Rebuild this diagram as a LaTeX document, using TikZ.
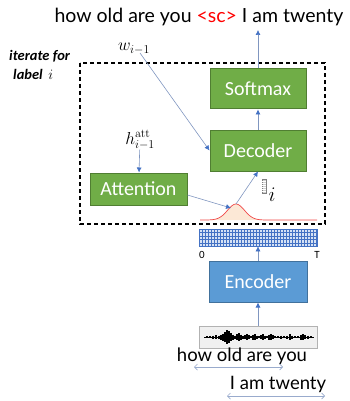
\documentclass[tikz,border=0pt]{standalone}
\usepackage[no-math]{fontspec}
\setmainfont{Carlito}
\newfontfamily\gillfont{Lato}
\usetikzlibrary{arrows.meta}
\definecolor{boxgreen}{HTML}{70AD47}
\definecolor{boxgreenline}{HTML}{507E32}
\definecolor{boxblue}{HTML}{5B9BD5}
\definecolor{boxblueline}{HTML}{41719C}
\definecolor{arrline}{HTML}{8096C0}
\definecolor{arrtip}{HTML}{4472C4}
\definecolor{gaussfill}{HTML}{FCE8D6}
\definecolor{gaussline}{HTML}{F04848}
\definecolor{barfill}{HTML}{D6E2F5}
\definecolor{sccol}{HTML}{FF0000}

\begin{document}
\begin{tikzpicture}[x=1pt,y=-1pt,
		gbox/.style={draw=boxgreenline,fill=boxgreen,line width=1pt,text=white,font=\fontsize{20}{22}\selectfont,minimum width=96pt,inner sep=0pt},
		bbox/.style={draw=boxblueline,fill=boxblue,line width=1pt,text=white,font=\fontsize{20}{22}\selectfont,minimum width=98pt,minimum height=41pt,inner sep=0pt},
		arr/.style={draw=arrline,line width=0.6pt,-{Latex[length=5pt,width=5pt,color=arrtip]}},
		span/.style={draw=arrline!80,line width=0.7pt,{Straight Barb[length=3pt,width=6pt]}-{Straight Barb[length=3pt,width=6pt]}},
		mathlab/.style={font=\fontsize{17}{19}\selectfont,inner sep=0pt}]
	\useasboundingbox (0,0) rectangle (349,401);

	% sentence on top
	\node[font=\gillfont\fontsize{19.5}{22}\selectfont,inner sep=0pt] (out) at (199,17) {how old are you \textcolor{sccol}{<sc>} I am twenty};
	\coordinate (outfoot) at (258,30);

	% loop frame
	\draw[line width=1.1pt,dash pattern=on 4pt off 3pt] (80,63) rectangle (325,224);
	\node[anchor=west,font=\bfseries\itshape\fontsize{14.5}{16}\selectfont,inner sep=0pt] (iter) at (9,56) {iterate for};
	\node[anchor=west,font=\bfseries\itshape\fontsize{14.5}{16}\selectfont,inner sep=0pt] (lab) at (13,74) {label \,$\fontsize{17}{19}\selectfont i$};

	% decoder stack
	\node[gbox,minimum height=40pt] (softmax) at (258,89) {Softmax};
	\node[gbox,minimum height=41pt] (decoder) at (258,150.5) {Decoder};
	\node[gbox,minimum height=32pt,minimum width=97pt] (attention) at (138.5,189) {Attention};
	\node[mathlab] (wlab) at (134,49) {$w_{i-1}$};
	\node[mathlab] (hlab) at (140,140) {$h^{\mathrm{att}}_{i-1}$};
	\coordinate (wtail) at (140,53);

	% attention weights
	\fill[gaussfill] plot[domain=200:317,samples=80] (\x,{220-16*exp(-((\x-236)/12)^2)}) -- cycle;
	\draw[gaussline,line width=0.7pt] plot[domain=200:317,samples=80] (\x,{220-16*exp(-((\x-236)/12)^2)});
	\coordinate (peak) at (236,204);
	\coordinate (peakleft) at (231,208);
	\node[draw=gray,fill=gray!35,line width=0.5pt,minimum width=4pt,minimum height=14pt,inner sep=0pt] (ctx) at (264,186) {};
	\foreach \k in {1,...,6} {\draw[white,line width=0.5pt] (262,{179+2*\k}) -- (266,{179+2*\k});};
	\node[font=\fontsize{22}{24}\selectfont,inner sep=0pt] (ilab) at (272,195) {$i$};

	% encoder output
	\node[fill=barfill,draw=arrtip,line width=0.6pt,minimum width=118pt,minimum height=17pt,inner sep=0pt] (bar) at (258,237.5) {};
	\foreach \x in {202,205,...,316} {\draw[arrtip,line width=0.4pt] (\x,229) -- (\x,246);};
	\foreach \y in {232.5,236,239.5,243} {\draw[arrtip,line width=0.4pt] (199,\y) -- (317,\y);};
	\node[font=\fontsize{11}{12}\selectfont,inner sep=0pt] (zero) at (202,255) {0};
	\node[font=\fontsize{11}{12}\selectfont,inner sep=0pt] (tlab) at (317,255) {T};

	\node[bbox] (encoder) at (258,281.5) {Encoder};

	% speech signal
	\node[fill=gray!12,draw=gray!60,line width=0.6pt,minimum width=118pt,minimum height=22pt,inner sep=0pt] (wave) at (258,337) {};
	\draw[black,line width=0.8pt] (204,337) -- (314,337);
	\foreach \x/\h in {207/0.8,210/1.2,213/1.5,216/2,219/1.5,221/2.5,223/3.5,225/5,227/7,229/6,231/4,233/2.5,235/1.5,237/3,239/4,241/2.5,243/1.5,245/2,247/3,249/2,251/1,253/2.5,255/3,257/1.5,259/1,261/2,263/3,265/1.5,267/1,269/2.5,271/3,273/2,275/1,278/1,281/1.5,284/1,287/1.5,290/3,292/1.5,295/1,298/1,301/2.5,303/3,305/2,308/1.5,311/1}
		{\draw[black,line width=1.3pt] (\x,337) ++(0,-\h) -- ++(0,{2*\h});};

	% transcripts
	\node[font=\gillfont\fontsize{18.5}{21}\selectfont,inner sep=0pt] (src) at (242,356) {how old are you};
	\node[font=\gillfont\fontsize{18.5}{21}\selectfont,inner sep=0pt] (tgt) at (278,384) {I am twenty};
	\coordinate (srcl) at (194,367);
	\coordinate (srcr) at (283,367);
	\coordinate (tgtl) at (227,396);
	\coordinate (tgtr) at (325,396);
	\draw[span] (srcl) -- (srcr);
	\draw[span] (tgtl) -- (tgtr);

	% connections
	\draw[arr] (softmax) -- (outfoot);
	\draw[arr] (decoder) -- (softmax);
	\draw[arr] (wtail) -- (decoder.west);
	\draw[arr] (hlab) -- (attention);
	\draw[arr] ([yshift=-6pt]attention.east) -- (peakleft);
	\draw[arr] (peak) -- (decoder.south);
	\draw[arr] (encoder) -- (bar);
	\draw[arr] (wave) -- (encoder);
\end{tikzpicture}
\end{document}
